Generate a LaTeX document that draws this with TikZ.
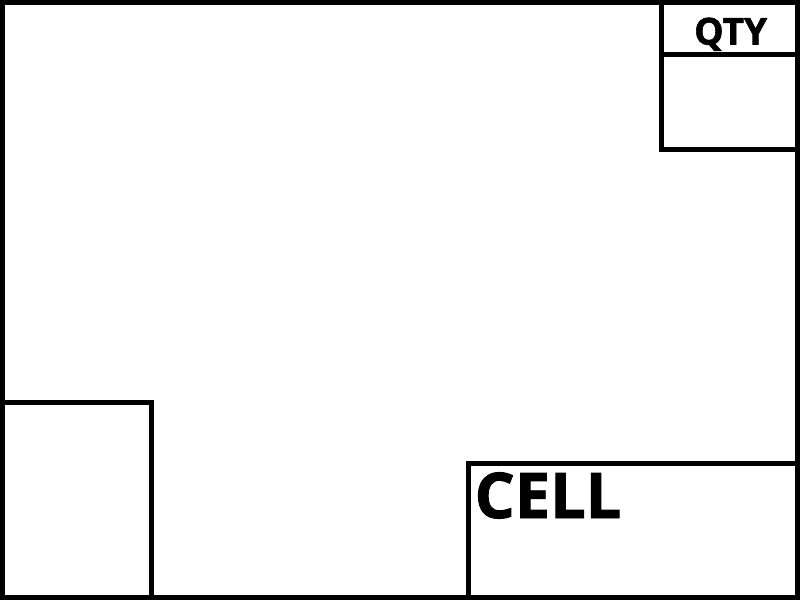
\documentclass[tikz,border=0pt]{standalone}
\usepackage{fontspec}
\setmainfont{Open Sans}[UprightFont=* Bold, RawFeature={embolden=1.5}]
\usetikzlibrary{positioning}

\tikzset{
  frame/.style={line width=5pt, draw=black},
  tag/.style={inner sep=0pt, anchor=base west, text=black}
}

\begin{document}
\begin{tikzpicture}[x=1pt, y=-1pt]
  \useasboundingbox (0,0) rectangle (800,600);
  % outer frame
  \draw[frame] (2.5,2.5) rectangle (797.5,597.5);
  % quantity box, top right
  \draw[frame] (661,2.5) -- (661,149) -- (797.5,149);
  \draw[frame] (661,54) -- (797.5,54);
  \node[tag, font=\fontsize{37}{37}\selectfont] (qty) at (694,44.5) {QTY};
  % left box, bottom
  \draw[frame] (2.5,402.5) -- (151.5,402.5) -- (151.5,597.5);
  % cell box, bottom right
  \draw[frame] (468.5,597.5) -- (468.5,463.5) -- (797.5,463.5);
  \node[tag, font=\fontsize{63}{63}\selectfont] (cell) at (474.5,518) {CELL};
\end{tikzpicture}
\end{document}
